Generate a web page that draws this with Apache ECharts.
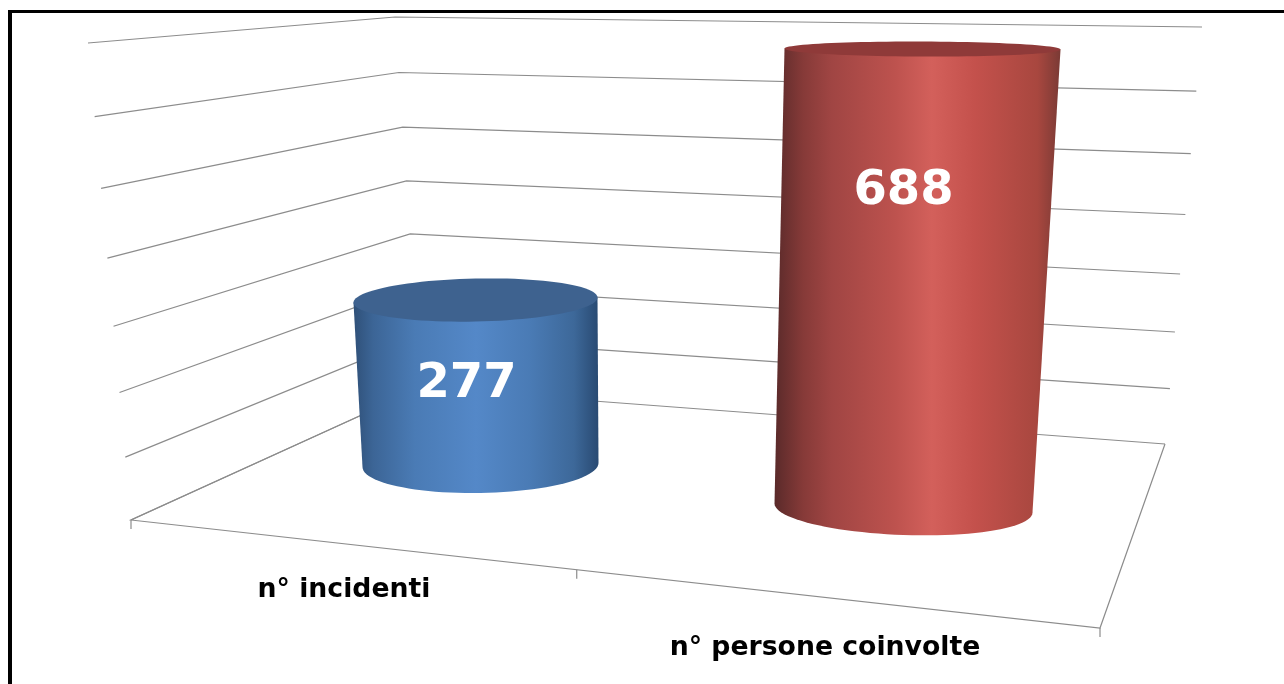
<!DOCTYPE html>
<html>
<head>
<meta charset="utf-8">
<title>Incidenti</title>
<style>
  html, body { margin: 0; padding: 0; background: #fff; }
  #chart { width: 1284px; height: 684px; }
</style>
<script src="https://cdn.jsdelivr.net/npm/echarts@6/dist/echarts.min.js"></script>
</head>
<body>
<div id="chart"></div>
<script>
// data
const categories = ['n° incidenti', 'n° persone coinvolte']
const values = [277, 688]
const yTicks = [0, 100, 200, 300, 400, 500, 600, 700]
const yMax = 700

// layout of the fake 3d box, in pixels
const frontLeftBottom = [131, 520]
const frontLeftTop = [88, 43]
const backBottom = [421, 388]
const backTop = [395, 17]
const frontRightBottom = [1165, 444]
const frontRightTop = [1202, 27]
const nearRightBottom = [1100, 628]
const floorTicks = [0, 0.46, 1]
// the reference's level lines sag a little on the left wall
const sagFront = 0.06
const sagBack = 0.03

// one entry per bar: where it stands and how perspective bends it
const baseY = [465, 508]
const depthScale = [0.874, 0.979]
const topShift = [-5, 19]
const rxBottom = [118, 129]
const rxTop = [122, 138]
const ryBottom = [28, 27]
const ryTop = [21.5, 7.5]
const tiltBottom = [-2, 4.5]
const tiltTop = [-2.5, 0.5]
const labelPos = [0.49, 0.69]
const labelShift = [-14, 0]
const categoryLabelX = [344, 825]
const categoryLabelY = [590, 648]

const sideStops = [
  [[0, '#2f5078'], [0.08, '#3c6596'], [0.25, '#4a7bb5'], [0.5, '#5488c8'], [0.72, '#4a7bb5'], [0.9, '#3d6899'], [1, '#294a72']],
  [[0, '#5a2a2a'], [0.1, '#863a38'], [0.2, '#a04543'], [0.42, '#bd524e'], [0.55, '#d3605b'], [0.7, '#c4514c'], [0.92, '#a8473f'], [1, '#7a3a35']]
]
const capColors = ['#3e628f', '#8f3a39']

const lineColor = '#8c8c8c'

// maps the unit square on a quad (p0, p1, p2, p3 counted around)
function quadMapper(p0, p1, p2, p3) {
  const dx1 = p1[0] - p2[0]
  const dx2 = p3[0] - p2[0]
  const sx = p0[0] - p1[0] + p2[0] - p3[0]
  const dy1 = p1[1] - p2[1]
  const dy2 = p3[1] - p2[1]
  const sy = p0[1] - p1[1] + p2[1] - p3[1]
  const den = dx1 * dy2 - dx2 * dy1
  const g = (sx * dy2 - dx2 * sy) / den
  const h = (dx1 * sy - sx * dy1) / den
  const a = p1[0] - p0[0] + g * p1[0]
  const b = p3[0] - p0[0] + h * p3[0]
  const d = p1[1] - p0[1] + g * p1[1]
  const e = p3[1] - p0[1] + h * p3[1]
  return (u, v) => {
    const w = g * u + h * v + 1
    return [(a * u + b * v + p0[0]) / w, (d * u + e * v + p0[1]) / w]
  }
}

const leftWall = quadMapper(frontLeftBottom, backBottom, backTop, frontLeftTop)
const rightWall = quadMapper(backBottom, frontRightBottom, frontRightTop, backTop)

function lineShape(points) {
  return {
    type: 'polyline',
    shape: { points },
    style: { stroke: lineColor, lineWidth: 1.2, fill: null }
  }
}

function renderWallLine(params, api) {
  const t = api.size([0, api.value(0)])[1] / api.size([0, yMax])[1]
  const sag = k => t - k * t * (1 - t)
  return lineShape([leftWall(0, sag(sagFront)), leftWall(1, sag(sagBack)), rightWall(1, t)])
}

function renderFloor(params, api) {
  const tickLen = 9
  const children = [
    lineShape([backBottom, frontLeftBottom, nearRightBottom, frontRightBottom])
  ]
  floorTicks.forEach(f => {
    const x = frontLeftBottom[0] + (nearRightBottom[0] - frontLeftBottom[0]) * f
    const y = frontLeftBottom[1] + (nearRightBottom[1] - frontLeftBottom[1]) * f
    children.push(lineShape([[x, y], [x, y + tickLen]]))
  })
  return { type: 'group', children }
}

// half an ellipse from left to right, bulging downward
function lowerArc(cx, cy, rx, ry, tilt) {
  const pts = []
  for (let i = 0; i <= 48; i++) {
    const a = Math.PI - (Math.PI * i) / 48
    const c = Math.cos(a)
    pts.push([cx + rx * c, cy + ry * Math.sin(a) + tilt * c])
  }
  return pts
}

function renderCylinder(params, api) {
  const i = api.value(0)
  const value = api.value(1)
  const cx = api.coord([i, 0])[0]
  const height = api.size([0, value])[1] * depthScale[i]
  const cy = baseY[i]
  const topX = cx + topShift[i]
  const topY = cy - height

  const bottom = lowerArc(cx, cy, rxBottom[i], ryBottom[i], tiltBottom[i])
  const capLower = lowerArc(topX, topY, rxTop[i], ryTop[i], tiltTop[i])
  const capUpper = lowerArc(topX, topY, rxTop[i], -ryTop[i], tiltTop[i]).reverse()
  const side = [capLower[0]].concat(bottom, [capLower[capLower.length - 1]])

  return {
    type: 'group',
    children: [
      {
        type: 'polygon',
        shape: { points: side },
        style: {
          fill: {
            type: 'linear', x: 0, y: 0, x2: 1, y2: 0,
            colorStops: sideStops[i].map(s => ({ offset: s[0], color: s[1] }))
          }
        }
      },
      {
        type: 'polygon',
        shape: { points: capLower.concat(capUpper) },
        style: { fill: capColors[i] }
      },
      {
        type: 'text',
        style: {
          text: String(value),
          x: cx + labelShift[i],
          y: cy - height * labelPos[i],
          align: 'center',
          verticalAlign: 'middle',
          fill: '#fff',
          font: 'bold 48px "DejaVu Sans"'
        }
      },
      {
        type: 'text',
        style: {
          text: categories[i],
          x: categoryLabelX[i],
          y: categoryLabelY[i],
          align: 'center',
          verticalAlign: 'middle',
          fill: '#000',
          font: 'bold 26.7px "DejaVu Sans"'
        }
      }
    ]
  }
}

const chart = echarts.init(document.getElementById('chart'), null, { renderer: 'canvas' })

chart.setOption({
  backgroundColor: '#fff',
  animation: false,
  grid: { left: 269, width: 846, top: 43, height: 477 },
  xAxis: { type: 'category', data: categories, show: false },
  yAxis: { type: 'value', min: 0, max: yMax, interval: 100, show: false },
  graphic: [
    { type: 'rect', shape: { x: 8, y: 10, width: 4, height: 674 }, style: { fill: '#000' } },
    { type: 'rect', shape: { x: 8, y: 10, width: 1276, height: 3 }, style: { fill: '#000' } }
  ],
  series: [
    {
      type: 'custom',
      name: 'pareti',
      silent: true,
      clip: false,
      z: 1,
      data: yTicks.map(v => [v]),
      renderItem: renderWallLine
    },
    {
      type: 'custom',
      name: 'pavimento',
      silent: true,
      clip: false,
      z: 1,
      data: [[0]],
      renderItem: renderFloor
    },
    {
      type: 'custom',
      name: 'valori',
      silent: true,
      clip: false,
      z: 2,
      data: categories.map((c, i) => [i, values[i]]),
      encode: { x: 0, y: 1 },
      renderItem: renderCylinder
    }
  ]
})
</script>
</body>
</html>
